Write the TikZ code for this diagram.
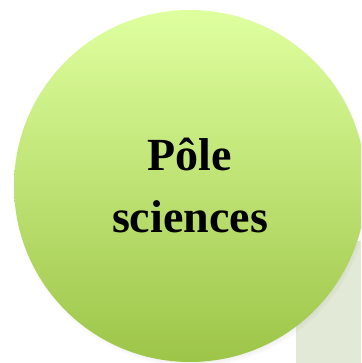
\documentclass[tikz,border=0pt]{standalone}
\usepackage{fontspec}
\setmainfont{Liberation Serif}
\usetikzlibrary{shadows}
\definecolor{limetop}{HTML}{DFFF9F}
\definecolor{limebot}{HTML}{9DC548}
\definecolor{panelgreen}{HTML}{E2E9D6}

\begin{document}
\begin{tikzpicture}[x=1pt,y=1pt,
    pole/.style={circle,minimum size=352pt,inner sep=0pt,top color=limetop,bottom color=limebot,
      align=center,font=\bfseries\fontsize{46}{62}\selectfont,
      circular drop shadow={shadow xshift=2pt,shadow yshift=-3pt,shadow scale=1.01,fill=black!45,opacity=.5}},
    panel/.style={fill=panelgreen,draw=none}]
    \clip (0,0) rectangle (361,363);
    \fill[white] (0,0) rectangle (361,363);
    \fill[panel] (296,0) rectangle (361,122);
    \node[pole] (p) at (190,177) {Pôle\\sciences};
\end{tikzpicture}
\end{document}
